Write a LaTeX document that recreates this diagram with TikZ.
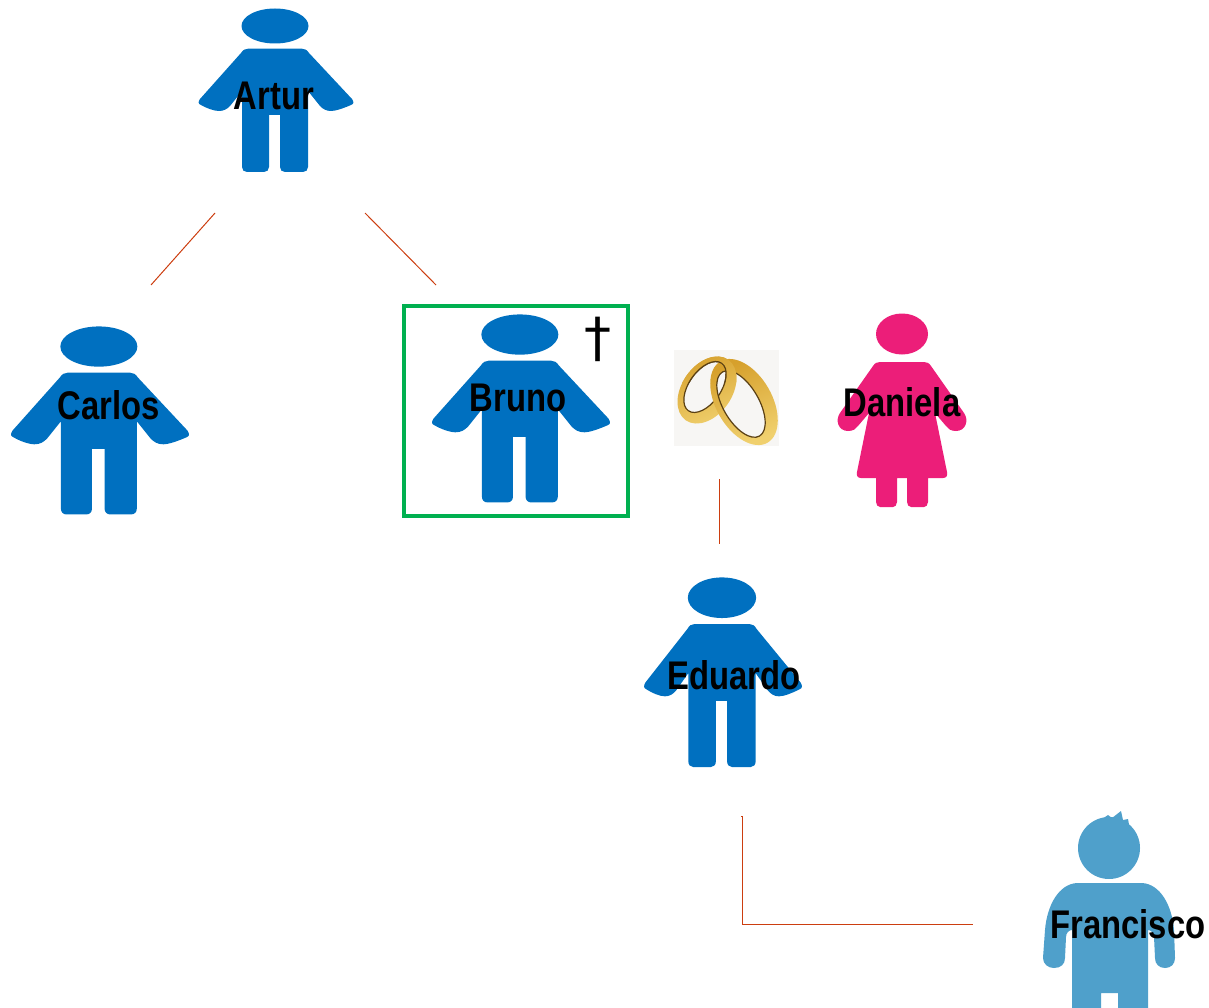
\documentclass[tikz,border=0pt]{standalone}
\usepackage{fontspec}
\setmainfont[FakeStretch=0.82]{Liberation Sans}
\newfontfamily\crossfont{DejaVu Sans}
\usepackage{tikz}
\usetikzlibrary{arrows.meta,positioning,calc}
\definecolor{manblue}{RGB}{0,112,192}
\definecolor{boyblue}{RGB}{79,160,203}
\definecolor{womanpink}{RGB}{236,30,121}
\definecolor{framegreen}{RGB}{0,176,80}
\definecolor{linkred}{RGB}{204,62,16}
\definecolor{ringgold}{RGB}{214,160,44}
\definecolor{ringlight}{RGB}{240,208,110}
\definecolor{ringdark}{RGB}{90,64,20}
\definecolor{ringback}{RGB}{247,246,244}

\begin{document}
\begin{tikzpicture}[
  x=1pt, y=-1pt,
  personname/.style={
    font=\fontsize{40}{44}\selectfont\bfseries,
    text=black, inner sep=0pt
  },
  link/.style={draw=linkred, line width=1pt},
  ringband/.style={even odd rule, left color=ringgold, right color=ringlight, shading angle=20},
  ringedge/.style={draw=ringdark, line width=1.2pt},
  man/.pic={
    \fill[manblue] (-1,17) ellipse [x radius=33.5, y radius=17.5];
    \fill[manblue]
      (-28,39.7) -- (26,39.7) .. controls (29,39.7) and (31,41) .. (33,44)
      -- (76,90) .. controls (78,93) and (78,95) .. (75,96)
      .. controls (68,99) and (60,102) .. (55,102)
      .. controls (50,102) and (47,100) .. (44,97)
      -- (32,82) -- (32,158) .. controls (32,161) and (30,163) .. (27,163)
      -- (9,163) .. controls (6,163) and (4,161) .. (4,158)
      -- (4,106) -- (-7,106) -- (-7,158) .. controls (-7,161) and (-9,163) .. (-12,163)
      -- (-29,163) .. controls (-32,163) and (-34,161) .. (-34,158)
      -- (-34,82) -- (-46,97) .. controls (-49,100) and (-52,102) .. (-57,102)
      .. controls (-62,102) and (-70,99) .. (-75,96)
      .. controls (-78,95) and (-78,93) .. (-76,90)
      -- (-35,44) .. controls (-33,41) and (-31,39.7) .. cycle;
  }
]
\useasboundingbox (0,0) rectangle (1209,1008);

\pic at (276,9)   [xscale=1.00, yscale=1.00] {man};
\pic at (100,327) [xscale=1.15, yscale=1.15] {man};
\pic at (521,315) [xscale=1.15, yscale=1.15] {man};
\pic at (723,578) [xscale=1.02, yscale=1.16] {man};

% Daniela
\fill[womanpink] (902,334) ellipse [x radius=26, y radius=20.5];
\fill[womanpink]
  (880,362) -- (924,362) .. controls (927,362) and (929,363) .. (931,366)
  -- (964,413) .. controls (969,420) and (966,431) .. (956,431)
  .. controls (951,431) and (948,429) .. (946,426)
  -- (935,413) -- (947,472) .. controls (948,476) and (946,478) .. (943,478)
  -- (928,478) -- (928,502) .. controls (928,505) and (926,507) .. (924,507)
  -- (911,507) .. controls (909,507) and (907,505) .. (907,502)
  -- (907,478) -- (897,478) -- (897,502) .. controls (897,505) and (895,507) .. (893,507)
  -- (880,507) .. controls (878,507) and (876,505) .. (876,502)
  -- (876,478) -- (861,478) .. controls (858,478) and (856,476) .. (857,472)
  -- (869,413) -- (858,426) .. controls (856,429) and (853,431) .. (848,431)
  .. controls (838,431) and (835,420) .. (840,413)
  -- (873,366) .. controls (875,363) and (877,362) .. cycle;

% Francisco
\fill[boyblue] (1109,848) circle [radius=31];
\fill[boyblue] (1092,826) -- (1108,815) -- (1112,818) -- (1121,811)
  -- (1123,820) -- (1128,819) -- (1130,830) -- cycle;
\fill[boyblue]
  (1077,883) -- (1142,883) .. controls (1160,884) and (1172,905) .. (1174,930)
  -- (1175,958) .. controls (1175,964) and (1171,968) .. (1165,968)
  .. controls (1159,968) and (1155,964) .. (1155,958)
  -- (1154,937) .. controls (1154,933) and (1151,930) .. (1148,930)
  -- (1148,1008) -- (1118,1008) -- (1118,993) -- (1101,993) -- (1101,1008) -- (1072,1008)
  -- (1072,930) .. controls (1069,930) and (1066,933) .. (1066,937)
  -- (1065,958) .. controls (1065,964) and (1061,968) .. (1054,968)
  .. controls (1048,968) and (1043,964) .. (1043,958)
  -- (1045,930) .. controls (1047,905) and (1059,884) .. cycle;

% rings
\fill[ringback] (674,350) rectangle (779,446);
\shade[ringband] (707,390) ellipse [x radius=37, y radius=25, rotate=55]
  (705,387) ellipse [x radius=29, y radius=16, rotate=55];
\draw[ringedge] (705,387) ellipse [x radius=29, y radius=16, rotate=55];
\shade[ringband] (744,402) ellipse [x radius=47, y radius=28, rotate=-60]
  (741,404) ellipse [x radius=37, y radius=18, rotate=-60];
\draw[ringedge] (741,404) ellipse [x radius=37, y radius=18, rotate=-60];
\begin{scope}
  \clip (674,350) rectangle (779,382);
  \shade[ringband] (707,390) ellipse [x radius=37, y radius=25, rotate=55]
    (705,387) ellipse [x radius=29, y radius=16, rotate=55];
  \draw[ringedge] (705,387) ellipse [x radius=29, y radius=16, rotate=55];
\end{scope}

\draw[framegreen, line width=3.4pt] (404,306) rectangle (628,516);

\node[personname] (artur) at (274,96)  {Artur};
\node[personname] (carlos) at (109,405) {Carlos};
\node[personname] (bruno) at (518,398) {Bruno};
\node[personname] (daniela) at (902,402) {Daniela};
\node[personname] (eduardo) at (734,675) {Eduardo};
\node[personname] (francisco) at (1128,924) {Francisco};
\node[font=\fontsize{54}{54}\selectfont\crossfont, inner sep=0pt] (cross) at (598,339) {†};

\coordinate (arturleft) at (215,213);
\coordinate (arturright) at (365,213);
\coordinate (carlostop) at (151,285);
\coordinate (brunotop) at (436,285);
\coordinate (ringsbottom) at (719,479);
\coordinate (eduardotop) at (719,544);
\coordinate (eduardofoot) at (741,816);
\coordinate (franciscoside) at (973,924);

\draw[link] (arturleft) -- (carlostop);
\draw[link] (arturright) -- (brunotop);
\draw[link] (ringsbottom) -- (eduardotop);
\draw[link] (eduardofoot) -- (742,816) |- (franciscoside);
\end{tikzpicture}
\end{document}
